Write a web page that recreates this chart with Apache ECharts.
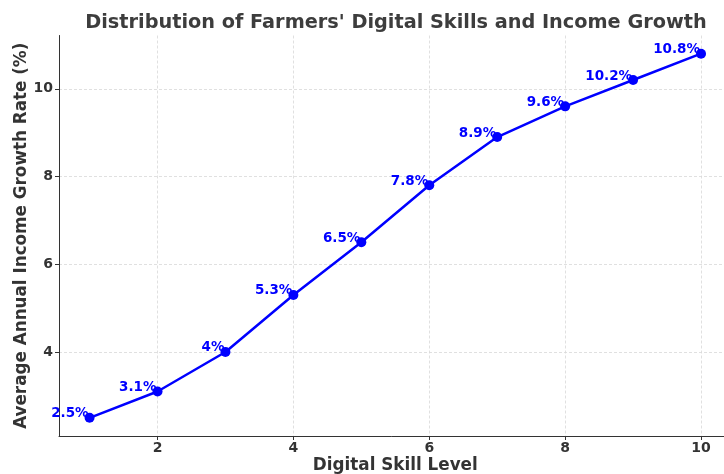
<!DOCTYPE html>
<html><head><meta charset="utf-8">
<script src="https://cdn.jsdelivr.net/npm/echarts@6/dist/echarts.min.js"></script>
<style>html,body{margin:0;padding:0;background:#fff}#c{width:724px;height:474px}</style>
</head><body><div id="c"></div>
<script>
const skillLevels = [1, 2, 3, 4, 5, 6, 7, 8, 9, 10];
const growthRates = [2.5, 3.1, 4.0, 5.3, 6.5, 7.8, 8.9, 9.6, 10.2, 10.8];
const pointLabels = ['2.5%', '3.1%', '4%', '5.3%', '6.5%', '7.8%', '8.9%', '9.6%', '10.2%', '10.8%'];
const xTicks = [2, 4, 6, 8, 10];
const yTicks = [4, 6, 8, 10];

const FONT = 'DejaVu Sans';
const chart = echarts.init(document.getElementById('c'), null, {renderer: 'canvas'});
chart.setOption({
  animation: false,
  backgroundColor: '#ffffff',
  title: {
    text: "Distribution of Farmers' Digital Skills and Income Growth",
    left: 391, top: 8, textAlign: 'center',
    textStyle: {fontFamily: FONT, fontWeight: 'bold', fontSize: 19.3, color: '#3d3d3d'}
  },
  grid: {left: 59, top: 35.5, width: 672.6, height: 400.5, containLabel: false, outerBoundsMode: 'none'},
  xAxis: {
    type: 'value', min: 0.55, max: 10.45,
    name: 'Digital Skill Level', nameLocation: 'middle', nameGap: 21, nameMoveOverlap: false,
    nameTextStyle: {fontFamily: FONT, fontWeight: 'bold', fontSize: 16.8, color: '#333'},
    axisLine: {show: true, lineStyle: {color: '#333', width: 1}},
    axisTick: {show: true, length: 4, lineStyle: {color: '#333'}, customValues: xTicks},
    axisLabel: {fontFamily: FONT, fontWeight: 'bold', fontSize: 14, color: '#333', margin: 5,
      customValues: xTicks, formatter: v => String(v)},
    splitLine: {show: true, lineStyle: {color: '#d8d8d8', type: [3, 2], width: 0.8}, customValues: xTicks},
    interval: 2
  },
  yAxis: {
    type: 'value', min: 2.085, max: 11.215,
    name: 'Average Annual Income Growth Rate (%)', nameLocation: 'middle', nameGap: 29, nameMoveOverlap: false,
    nameTextStyle: {fontFamily: FONT, fontWeight: 'bold', fontSize: 16.8, color: '#333'},
    axisLine: {show: true, lineStyle: {color: '#333', width: 1}},
    axisTick: {show: true, length: 4, lineStyle: {color: '#333'}, customValues: yTicks},
    axisLabel: {fontFamily: FONT, fontWeight: 'bold', fontSize: 14, color: '#333', margin: 6,
      customValues: yTicks, formatter: v => String(v)},
    splitLine: {show: true, lineStyle: {color: '#d8d8d8', type: [3, 2], width: 0.8}, customValues: yTicks}
  },
  series: [{
    type: 'line',
    data: skillLevels.map((x, i) => [x, growthRates[i]]),
    symbol: 'circle', symbolSize: 10,
    lineStyle: {color: '#0000ff', width: 2.5},
    itemStyle: {color: '#0000ff'},
    label: {
      show: true, position: [5, 5], align: 'right', verticalAlign: 'middle', offset: [-1, -4],
      formatter: p => pointLabels[p.dataIndex],
      fontFamily: FONT, fontWeight: 'bold', fontSize: 13.5, color: '#0000ff'
    },
    z: 3
  }]
});
</script></body></html>
